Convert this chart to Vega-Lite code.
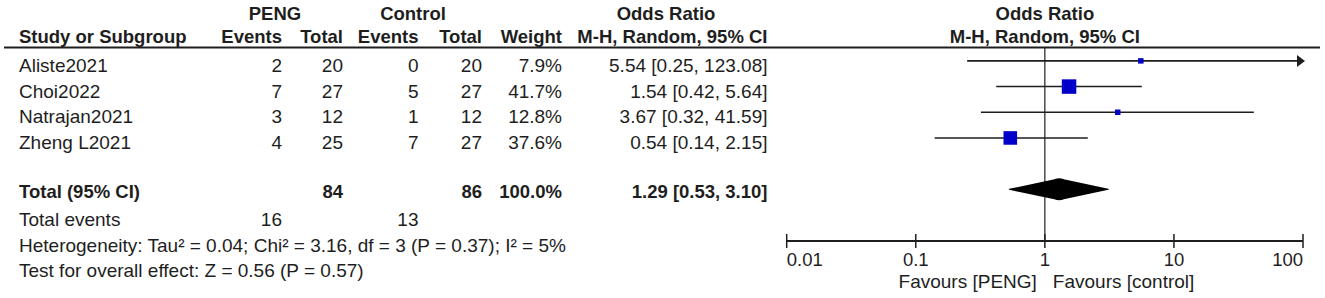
{
  "$schema": "https://vega.github.io/schema/vega-lite/v6.json",
  "width": 1325,
  "height": 298,
  "padding": 0,
  "autosize": {"type": "none"},
  "background": "white",
  "config": {"view": {"stroke": null}},
  "datasets": {
    "cells": [
      {"r": 0, "c": 1, "t": "PENG", "part": "head1"},
      {"r": 0, "c": 4, "t": "Control", "part": "head1"},
      {"r": 0, "c": 8, "t": "Odds Ratio", "part": "head1"},
      {"r": 1, "c": 0, "t": "Study or Subgroup", "part": "head2"},
      {"r": 1, "c": 2, "t": "Events", "part": "head2"},
      {"r": 1, "c": 3, "t": "Total", "part": "head2"},
      {"r": 1, "c": 5, "t": "Events", "part": "head2"},
      {"r": 1, "c": 6, "t": "Total", "part": "head2"},
      {"r": 1, "c": 7, "t": "Weight", "part": "head2"},
      {"r": 1, "c": 9, "t": "M-H, Random, 95% CI", "part": "head2"},
      {"r": 0, "c": 10, "t": "Odds Ratio", "part": "fhead"},
      {"r": 1, "c": 10, "t": "M-H, Random, 95% CI", "part": "fhead"},
      {"r": 2, "c": 0, "t": "Aliste2021", "part": "body"},
      {"r": 2, "c": 2, "t": "2", "part": "body"},
      {"r": 2, "c": 3, "t": "20", "part": "body"},
      {"r": 2, "c": 5, "t": "0", "part": "body"},
      {"r": 2, "c": 6, "t": "20", "part": "body"},
      {"r": 2, "c": 7, "t": "7.9%", "part": "body"},
      {"r": 2, "c": 9, "t": "5.54 [0.25, 123.08]", "part": "body"},
      {"r": 3, "c": 0, "t": "Choi2022", "part": "body"},
      {"r": 3, "c": 2, "t": "7", "part": "body"},
      {"r": 3, "c": 3, "t": "27", "part": "body"},
      {"r": 3, "c": 5, "t": "5", "part": "body"},
      {"r": 3, "c": 6, "t": "27", "part": "body"},
      {"r": 3, "c": 7, "t": "41.7%", "part": "body"},
      {"r": 3, "c": 9, "t": "1.54 [0.42, 5.64]", "part": "body"},
      {"r": 4, "c": 0, "t": "Natrajan2021", "part": "body"},
      {"r": 4, "c": 2, "t": "3", "part": "body"},
      {"r": 4, "c": 3, "t": "12", "part": "body"},
      {"r": 4, "c": 5, "t": "1", "part": "body"},
      {"r": 4, "c": 6, "t": "12", "part": "body"},
      {"r": 4, "c": 7, "t": "12.8%", "part": "body"},
      {"r": 4, "c": 9, "t": "3.67 [0.32, 41.59]", "part": "body"},
      {"r": 5, "c": 0, "t": "Zheng L2021", "part": "body"},
      {"r": 5, "c": 2, "t": "4", "part": "body"},
      {"r": 5, "c": 3, "t": "25", "part": "body"},
      {"r": 5, "c": 5, "t": "7", "part": "body"},
      {"r": 5, "c": 6, "t": "27", "part": "body"},
      {"r": 5, "c": 7, "t": "37.6%", "part": "body"},
      {"r": 5, "c": 9, "t": "0.54 [0.14, 2.15]", "part": "body"},
      {"r": 7, "c": 0, "t": "Total (95% CI)", "part": "total"},
      {"r": 7, "c": 3, "t": "84", "part": "total"},
      {"r": 7, "c": 6, "t": "86", "part": "total"},
      {"r": 7, "c": 7, "t": "100.0%", "part": "total"},
      {"r": 7, "c": 9, "t": "1.29 [0.53, 3.10]", "part": "total"},
      {"r": 8, "c": 0, "t": "Total events", "part": "body"},
      {"r": 8, "c": 2, "t": "16", "part": "body"},
      {"r": 8, "c": 5, "t": "13", "part": "body"},
      {"r": 9, "c": 0, "t": "Heterogeneity: Tau² = 0.04; Chi² = 3.16, df = 3 (P = 0.37); I² = 5%", "part": "body"},
      {"r": 10, "c": 0, "t": "Test for overall effect: Z = 0.56 (P = 0.57)", "part": "body"},
      {"t": "Favours [PENG]", "part": "favL"},
      {"t": "Favours [control]", "part": "favR"}
    ],
    "studies": [
      {"study": "Aliste2021", "r": 2, "or": 5.54, "lo": 0.25, "hi": 123.08, "w": 7.9},
      {"study": "Choi2022", "r": 3, "or": 1.54, "lo": 0.42, "hi": 5.64, "w": 41.7},
      {"study": "Natrajan2021", "r": 4, "or": 3.67, "lo": 0.32, "hi": 41.59, "w": 12.8},
      {"study": "Zheng L2021", "r": 5, "or": 0.54, "lo": 0.14, "hi": 2.15, "w": 37.6}
    ],
    "overall": [
      {"r": 7, "or": 1.29, "lo": 0.53, "hi": 3.10}
    ],
    "ticks": [
      {"v": 0.01}, {"v": 0.1}, {"v": 1}, {"v": 10}, {"v": 100}
    ]
  },
  "resolve": {"scale": {"x": "independent"}},
  "layer": [
    {
      "layer": [
        {
          "data": {"values": [{}]},
          "mark": {"type": "rule", "strokeWidth": 2, "color": "#1e1e1e"},
          "encoding": {
            "x": {"datum": -1, "type": "quantitative", "scale": {"domain": [-1, 0, 1, 2, 3, 4, 5, 6, 7, 8, 9, 10], "range": [4, 19, 275, 282, 343, 413, 418.5, 482, 562, 666, 767.5, 1320], "nice": false, "zero": false}, "axis": null},
            "x2": {"datum": 10},
            "y": {"datum": 1.479, "type": "quantitative", "scale": {"domain": [0, 10], "range": [9.5, 266.4], "nice": false, "zero": false}, "axis": null}
          }
        },
        {
          "data": {"name": "cells"},
          "transform": [{"filter": "datum.part == 'head1'"}],
          "mark": {"type": "text", "align": "center", "baseline": "alphabetic", "dy": 10.5, "font": "Liberation Sans", "fontSize": 18.5, "fontWeight": "bold", "color": "#1e1e1e"},
          "encoding": {
            "x": {"field": "c", "type": "quantitative", "scale": {"domain": [-1, 0, 1, 2, 3, 4, 5, 6, 7, 8, 9, 10], "range": [4, 19, 275, 282, 343, 413, 418.5, 482, 562, 666, 767.5, 1320], "nice": false, "zero": false}, "axis": null},
            "y": {"field": "r", "type": "quantitative", "scale": {"domain": [0, 10], "range": [9.5, 266.4], "nice": false, "zero": false}, "axis": null},
            "text": {"field": "t"}
          }
        },
        {
          "data": {"name": "cells"},
          "transform": [{"filter": "datum.part == 'head2' && datum.c == 0"}],
          "mark": {"type": "text", "align": "left", "baseline": "alphabetic", "dy": 7.8, "font": "Liberation Sans", "fontSize": 18.5, "fontWeight": "bold", "color": "#1e1e1e"},
          "encoding": {
            "x": {"field": "c", "type": "quantitative", "scale": {"domain": [-1, 0, 1, 2, 3, 4, 5, 6, 7, 8, 9, 10], "range": [4, 19, 275, 282, 343, 413, 418.5, 482, 562, 666, 767.5, 1320], "nice": false, "zero": false}, "axis": null},
            "y": {"field": "r", "type": "quantitative", "scale": {"domain": [0, 10], "range": [9.5, 266.4], "nice": false, "zero": false}, "axis": null},
            "text": {"field": "t"}
          }
        },
        {
          "data": {"name": "cells"},
          "transform": [{"filter": "datum.part == 'head2' && datum.c > 0"}],
          "mark": {"type": "text", "align": "right", "baseline": "alphabetic", "dy": 7.8, "font": "Liberation Sans", "fontSize": 18.5, "fontWeight": "bold", "color": "#1e1e1e"},
          "encoding": {
            "x": {"field": "c", "type": "quantitative", "scale": {"domain": [-1, 0, 1, 2, 3, 4, 5, 6, 7, 8, 9, 10], "range": [4, 19, 275, 282, 343, 413, 418.5, 482, 562, 666, 767.5, 1320], "nice": false, "zero": false}, "axis": null},
            "y": {"field": "r", "type": "quantitative", "scale": {"domain": [0, 10], "range": [9.5, 266.4], "nice": false, "zero": false}, "axis": null},
            "text": {"field": "t"}
          }
        },
        {
          "data": {"name": "cells"},
          "transform": [{"filter": "datum.part == 'body' && datum.c == 0"}],
          "mark": {"type": "text", "align": "left", "baseline": "alphabetic", "dy": 11, "font": "Liberation Sans", "fontSize": 19, "color": "#1e1e1e"},
          "encoding": {
            "x": {"field": "c", "type": "quantitative", "scale": {"domain": [-1, 0, 1, 2, 3, 4, 5, 6, 7, 8, 9, 10], "range": [4, 19, 275, 282, 343, 413, 418.5, 482, 562, 666, 767.5, 1320], "nice": false, "zero": false}, "axis": null},
            "y": {"field": "r", "type": "quantitative", "scale": {"domain": [0, 10], "range": [9.5, 266.4], "nice": false, "zero": false}, "axis": null},
            "text": {"field": "t"}
          }
        },
        {
          "data": {"name": "cells"},
          "transform": [{"filter": "datum.part == 'body' && datum.c > 0"}],
          "mark": {"type": "text", "align": "right", "baseline": "alphabetic", "dy": 11, "font": "Liberation Sans", "fontSize": 19, "color": "#1e1e1e"},
          "encoding": {
            "x": {"field": "c", "type": "quantitative", "scale": {"domain": [-1, 0, 1, 2, 3, 4, 5, 6, 7, 8, 9, 10], "range": [4, 19, 275, 282, 343, 413, 418.5, 482, 562, 666, 767.5, 1320], "nice": false, "zero": false}, "axis": null},
            "y": {"field": "r", "type": "quantitative", "scale": {"domain": [0, 10], "range": [9.5, 266.4], "nice": false, "zero": false}, "axis": null},
            "text": {"field": "t"}
          }
        },
        {
          "data": {"name": "cells"},
          "transform": [{"filter": "datum.part == 'total' && datum.c == 0"}],
          "mark": {"type": "text", "align": "left", "baseline": "alphabetic", "dy": 9, "font": "Liberation Sans", "fontSize": 18.5, "fontWeight": "bold", "color": "#1e1e1e"},
          "encoding": {
            "x": {"field": "c", "type": "quantitative", "scale": {"domain": [-1, 0, 1, 2, 3, 4, 5, 6, 7, 8, 9, 10], "range": [4, 19, 275, 282, 343, 413, 418.5, 482, 562, 666, 767.5, 1320], "nice": false, "zero": false}, "axis": null},
            "y": {"field": "r", "type": "quantitative", "scale": {"domain": [0, 10], "range": [9.5, 266.4], "nice": false, "zero": false}, "axis": null},
            "text": {"field": "t"}
          }
        },
        {
          "data": {"name": "cells"},
          "transform": [{"filter": "datum.part == 'total' && datum.c > 0"}],
          "mark": {"type": "text", "align": "right", "baseline": "alphabetic", "dy": 9, "font": "Liberation Sans", "fontSize": 18.5, "fontWeight": "bold", "color": "#1e1e1e"},
          "encoding": {
            "x": {"field": "c", "type": "quantitative", "scale": {"domain": [-1, 0, 1, 2, 3, 4, 5, 6, 7, 8, 9, 10], "range": [4, 19, 275, 282, 343, 413, 418.5, 482, 562, 666, 767.5, 1320], "nice": false, "zero": false}, "axis": null},
            "y": {"field": "r", "type": "quantitative", "scale": {"domain": [0, 10], "range": [9.5, 266.4], "nice": false, "zero": false}, "axis": null},
            "text": {"field": "t"}
          }
        }
      ]
    },
    {
      "resolve": {"scale": {"size": "independent"}},
      "layer": [
        {
          "data": {"name": "studies"},
          "mark": {"type": "rule", "strokeWidth": 1.6, "color": "#1e1e1e"},
          "encoding": {
            "x": {"field": "lo", "type": "quantitative", "scale": {"type": "log", "domain": [0.01, 100], "range": [786.7, 1303], "clamp": true, "nice": false}, "axis": null},
            "x2": {"field": "hi"},
            "y": {"field": "r", "type": "quantitative", "scale": {"domain": [0, 10], "range": [9.5, 266.4], "nice": false, "zero": false}, "axis": null}
          }
        },
        {
          "data": {"name": "ticks"},
          "transform": [{"filter": "datum.v == 1"}],
          "mark": {"type": "rule", "strokeWidth": 1.2, "color": "#1e1e1e"},
          "encoding": {
            "x": {"field": "v", "type": "quantitative", "scale": {"type": "log", "domain": [0.01, 100], "range": [786.7, 1303], "clamp": true, "nice": false}, "axis": null},
            "y": {"datum": 1.479, "type": "quantitative", "scale": {"domain": [0, 10], "range": [9.5, 266.4], "nice": false, "zero": false}, "axis": null},
            "y2": {"datum": 9.011}
          }
        },
        {
          "data": {"values": [{}]},
          "mark": {"type": "rule", "strokeWidth": 2, "color": "#1e1e1e"},
          "encoding": {
            "x": {"datum": 0.01, "type": "quantitative", "scale": {"type": "log", "domain": [0.01, 100], "range": [786.7, 1303], "clamp": true, "nice": false}, "axis": null},
            "x2": {"datum": 100},
            "y": {"datum": 9.011, "type": "quantitative", "scale": {"domain": [0, 10], "range": [9.5, 266.4], "nice": false, "zero": false}, "axis": null}
          }
        },
        {
          "data": {"name": "ticks"},
          "mark": {"type": "rule", "strokeWidth": 1.5, "color": "#1e1e1e"},
          "encoding": {
            "x": {"field": "v", "type": "quantitative", "scale": {"type": "log", "domain": [0.01, 100], "range": [786.7, 1303], "clamp": true, "nice": false}, "axis": null},
            "y": {"datum": 8.739, "type": "quantitative", "scale": {"domain": [0, 10], "range": [9.5, 266.4], "nice": false, "zero": false}, "axis": null},
            "y2": {"datum": 9.283}
          }
        },
        {
          "data": {"name": "ticks"},
          "transform": [{"filter": "datum.v == 0.01"}],
          "mark": {"type": "text", "align": "left", "baseline": "alphabetic", "dy": 24.8, "font": "Liberation Sans", "fontSize": 18.5, "color": "#1e1e1e"},
          "encoding": {
            "x": {"field": "v", "type": "quantitative", "scale": {"type": "log", "domain": [0.01, 100], "range": [786.7, 1303], "clamp": true, "nice": false}, "axis": null},
            "y": {"datum": 9.011, "type": "quantitative", "scale": {"domain": [0, 10], "range": [9.5, 266.4], "nice": false, "zero": false}, "axis": null},
            "text": {"field": "v", "type": "quantitative", "format": "~g"}
          }
        },
        {
          "data": {"name": "ticks"},
          "transform": [{"filter": "datum.v > 0.01 && datum.v < 100"}],
          "mark": {"type": "text", "align": "center", "baseline": "alphabetic", "dy": 24.8, "font": "Liberation Sans", "fontSize": 18.5, "color": "#1e1e1e"},
          "encoding": {
            "x": {"field": "v", "type": "quantitative", "scale": {"type": "log", "domain": [0.01, 100], "range": [786.7, 1303], "clamp": true, "nice": false}, "axis": null},
            "y": {"datum": 9.011, "type": "quantitative", "scale": {"domain": [0, 10], "range": [9.5, 266.4], "nice": false, "zero": false}, "axis": null},
            "text": {"field": "v", "type": "quantitative", "format": "~g"}
          }
        },
        {
          "data": {"name": "ticks"},
          "transform": [{"filter": "datum.v == 100"}],
          "mark": {"type": "text", "align": "right", "baseline": "alphabetic", "dy": 24.8, "font": "Liberation Sans", "fontSize": 18.5, "color": "#1e1e1e"},
          "encoding": {
            "x": {"field": "v", "type": "quantitative", "scale": {"type": "log", "domain": [0.01, 100], "range": [786.7, 1303], "clamp": true, "nice": false}, "axis": null},
            "y": {"datum": 9.011, "type": "quantitative", "scale": {"domain": [0, 10], "range": [9.5, 266.4], "nice": false, "zero": false}, "axis": null},
            "text": {"field": "v", "type": "quantitative", "format": "~g"}
          }
        },
        {
          "data": {"name": "cells"},
          "transform": [{"filter": "datum.part == 'favL'"}],
          "mark": {"type": "text", "align": "right", "baseline": "alphabetic", "dx": -8, "dy": 47.5, "font": "Liberation Sans", "fontSize": 19, "color": "#1e1e1e"},
          "encoding": {
            "x": {"datum": 1, "type": "quantitative", "scale": {"type": "log", "domain": [0.01, 100], "range": [786.7, 1303], "clamp": true, "nice": false}, "axis": null},
            "y": {"datum": 9.011, "type": "quantitative", "scale": {"domain": [0, 10], "range": [9.5, 266.4], "nice": false, "zero": false}, "axis": null},
            "text": {"field": "t"}
          }
        },
        {
          "data": {"name": "cells"},
          "transform": [{"filter": "datum.part == 'favR'"}],
          "mark": {"type": "text", "align": "left", "baseline": "alphabetic", "dx": 8, "dy": 47.5, "font": "Liberation Sans", "fontSize": 19, "color": "#1e1e1e"},
          "encoding": {
            "x": {"datum": 1, "type": "quantitative", "scale": {"type": "log", "domain": [0.01, 100], "range": [786.7, 1303], "clamp": true, "nice": false}, "axis": null},
            "y": {"datum": 9.011, "type": "quantitative", "scale": {"domain": [0, 10], "range": [9.5, 266.4], "nice": false, "zero": false}, "axis": null},
            "text": {"field": "t"}
          }
        },
        {
          "data": {"name": "studies"},
          "mark": {"type": "point", "shape": "square", "filled": true, "opacity": 1, "color": "#0000C8", "strokeWidth": 0},
          "encoding": {
            "x": {"field": "or", "type": "quantitative", "scale": {"type": "log", "domain": [0.01, 100], "range": [786.7, 1303], "clamp": true, "nice": false}, "axis": null},
            "y": {"field": "r", "type": "quantitative", "scale": {"domain": [0, 10], "range": [9.5, 266.4], "nice": false, "zero": false}, "axis": null},
            "size": {"field": "w", "type": "quantitative", "scale": {"type": "linear", "domain": [12.8, 41.7], "range": [30, 210], "zero": false, "clamp": true}, "legend": null}
          }
        },
        {
          "data": {"name": "studies"},
          "transform": [{"filter": "datum.hi > 100"}],
          "mark": {"type": "point", "shape": "M-1.5,-1.5L0.5,0L-1.5,1.5Z", "filled": true, "opacity": 1, "color": "#1e1e1e", "size": 64, "strokeWidth": 0},
          "encoding": {
            "x": {"field": "hi", "type": "quantitative", "scale": {"type": "log", "domain": [0.01, 100], "range": [786.7, 1303], "clamp": true, "nice": false}, "axis": null},
            "y": {"field": "r", "type": "quantitative", "scale": {"domain": [0, 10], "range": [9.5, 266.4], "nice": false, "zero": false}, "axis": null}
          }
        },
        {
          "data": {"name": "overall"},
          "transform": [{"fold": ["lo", "or", "hi"], "as": ["k", "v"]}],
          "mark": {"type": "trail", "color": "#000000", "opacity": 1},
          "encoding": {
            "x": {"field": "v", "type": "quantitative", "scale": {"type": "log", "domain": [0.01, 100], "range": [786.7, 1303], "clamp": true, "nice": false}, "axis": null},
            "y": {"field": "r", "type": "quantitative", "scale": {"domain": [0, 10], "range": [9.5, 266.4], "nice": false, "zero": false}, "axis": null},
            "size": {"field": "k", "type": "nominal", "scale": {"type": "ordinal", "domain": ["lo", "or", "hi"], "range": [0, 22, 0]}, "legend": null}
          }
        },
        {
          "data": {"name": "cells"},
          "transform": [{"filter": "datum.part == 'fhead' && datum.r == 0"}],
          "mark": {"type": "text", "align": "center", "baseline": "alphabetic", "dy": 10.5, "font": "Liberation Sans", "fontSize": 18.5, "fontWeight": "bold", "color": "#1e1e1e"},
          "encoding": {
            "x": {"datum": 1, "type": "quantitative", "scale": {"type": "log", "domain": [0.01, 100], "range": [786.7, 1303], "clamp": true, "nice": false}, "axis": null},
            "y": {"field": "r", "type": "quantitative", "scale": {"domain": [0, 10], "range": [9.5, 266.4], "nice": false, "zero": false}, "axis": null},
            "text": {"field": "t"}
          }
        },
        {
          "data": {"name": "cells"},
          "transform": [{"filter": "datum.part == 'fhead' && datum.r == 1"}],
          "mark": {"type": "text", "align": "center", "baseline": "alphabetic", "dy": 7.8, "font": "Liberation Sans", "fontSize": 18.5, "fontWeight": "bold", "color": "#1e1e1e"},
          "encoding": {
            "x": {"datum": 1, "type": "quantitative", "scale": {"type": "log", "domain": [0.01, 100], "range": [786.7, 1303], "clamp": true, "nice": false}, "axis": null},
            "y": {"field": "r", "type": "quantitative", "scale": {"domain": [0, 10], "range": [9.5, 266.4], "nice": false, "zero": false}, "axis": null},
            "text": {"field": "t"}
          }
        }
      ]
    }
  ]
}
